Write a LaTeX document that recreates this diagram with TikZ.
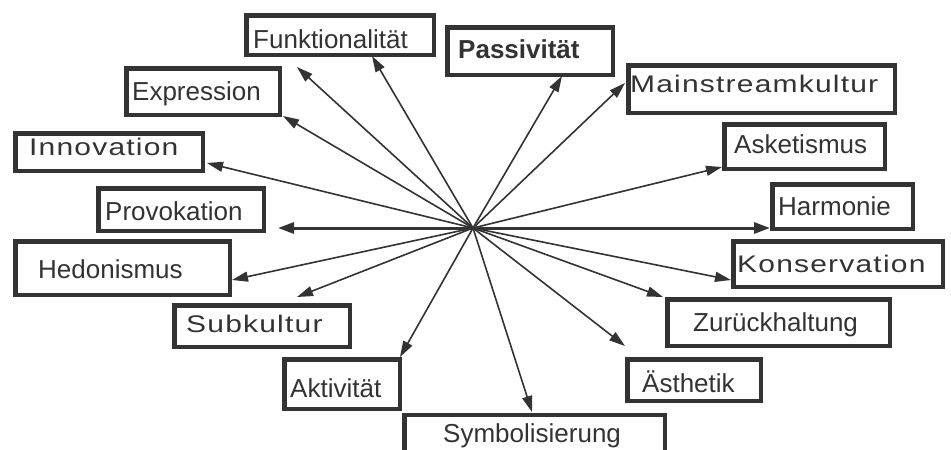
\documentclass[tikz,border=0pt]{standalone}
\usepackage{fontspec}
\setmainfont{Liberation Sans}
\newfontfamily\widefont[FakeStretch=1.25,LetterSpace=5]{Liberation Sans}
\usetikzlibrary{arrows.meta}
\definecolor{ink}{HTML}{333333}
\begin{document}
\begin{tikzpicture}[x=1pt,y=-1pt,
  box/.style={draw=ink, line width=4.5pt, rectangle, inner sep=0pt, fill=white},
  lbl/.style={anchor=base west, inner sep=0pt, text=ink, font=\fontsize{26}{30}\selectfont},
  wlbl/.style={anchor=base west, inner sep=0pt, text=ink, font=\fontsize{24}{28}\selectfont\widefont},
  conn/.style={draw=ink, line width=1.6pt, -{Triangle[length=16pt,width=10pt]}},
  hconn/.style={draw=ink, line width=3pt, -{Triangle[length=16pt,width=11pt]}}]
\clip (0,0) rectangle (951,450);
\fill[white] (0,0) rectangle (951,450);
% boxes: outer edges given, node size = outer - line width
\node[box, minimum width=187.5pt, minimum height=39.5pt] (fun) at (340,35) {};
\node[box, minimum width=165.5pt, minimum height=47.5pt] (pas) at (530,51) {};
\node[box, minimum width=153.5pt, minimum height=46.5pt] (exp) at (203,91.5) {};
\node[box, minimum width=266.5pt, minimum height=47.5pt] (mai) at (761.5,89) {};
\node[box, minimum width=187.5pt, minimum height=37.5pt] (inn) at (109,152) {};
\node[box, minimum width=160.5pt, minimum height=44.5pt] (ask) at (804.5,146.5) {};
\node[box, minimum width=165.5pt, minimum height=42.5pt] (pro) at (181,209.5) {};
\node[box, minimum width=140.5pt, minimum height=44.5pt] (har) at (842.5,206.5) {};
\node[box, minimum width=214.5pt, minimum height=53.5pt] (hed) at (122.5,268) {};
\node[box, minimum width=209.5pt, minimum height=45.5pt] (kon) at (838,264) {};
\node[box, minimum width=175.5pt, minimum height=41.5pt] (sub) at (262,326) {};
\node[box, minimum width=222.5pt, minimum height=46.5pt] (zur) at (778.5,322.5) {};
\node[box, minimum width=115.5pt, minimum height=49.5pt] (akt) at (342,384) {};
\node[box, minimum width=133.5pt, minimum height=41.5pt] (aes) at (694,380) {};
\node[box, minimum width=260.5pt, minimum height=60pt] (sym) at (534.5,445) {};
% labels
\node[lbl] (funT) at (253,48) {Funktionalität};
\node[lbl, font=\fontsize{26}{30}\selectfont\bfseries] (pasT) at (458,58) {Passivität};
\node[lbl] (expT) at (132,100) {Expression};
\node[wlbl] (maiT) at (630,92) {Mainstreamkultur};
\node[wlbl] (innT) at (29,155) {Innovation};
\node[lbl] (askT) at (734,153) {Asketismus};
\node[lbl] (proT) at (105,220) {Provokation};
\node[lbl] (harT) at (778,215) {Harmonie};
\node[lbl] (hedT) at (38,278) {Hedonismus};
\node[wlbl] (konT) at (737,272) {Konservation};
\node[wlbl] (subT) at (186,332) {Subkultur};
\node[lbl] (zurT) at (693,331) {Zurückhaltung};
\node[lbl] (aktT) at (290,397) {Aktivität};
\node[lbl] (aesT) at (642,392) {Ästhetik};
\node[lbl] (symT) at (443,442) {Symbolisierung};
% hub and arrow ends
\coordinate (c) at (473,228);
\coordinate (tFunA) at (297,67);
\coordinate (tFunB) at (372,56);
\coordinate (tPas) at (562,76);
\coordinate (tMai) at (625,83);
\coordinate (tAsk) at (722,167);
\coordinate (tHar) at (770,228);
\coordinate (tKon) at (731,280);
\coordinate (tZur) at (663,297);
\coordinate (tAes) at (625,346);
\coordinate (tSym) at (532,412);
\coordinate (tAkt) at (400,357);
\coordinate (tSub) at (297,297);
\coordinate (tHed) at (232,280);
\coordinate (tPro) at (278,228);
\coordinate (tInn) at (207,163);
\coordinate (tExp) at (283,116);
% connectors
\foreach \t in {tFunA,tFunB,tPas,tMai,tAsk,tKon,tZur,tAes,tSym,tAkt,tSub,tHed,tInn,tExp}
  \draw[conn] (c) -- (\t);
\draw[hconn] (c) -- (tHar);
\draw[hconn] (c) -- (tPro);
\end{tikzpicture}
\end{document}
